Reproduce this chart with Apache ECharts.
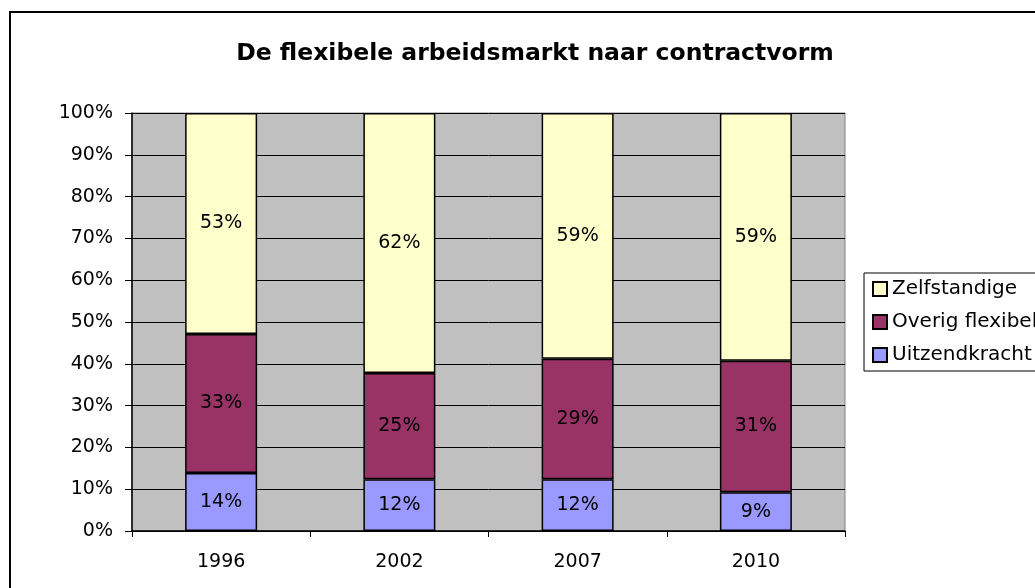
<!DOCTYPE html>
<html>
<head>
<meta charset="utf-8">
<script src="https://cdn.jsdelivr.net/npm/echarts@6/dist/echarts.min.js"></script>
<style>
  html, body { margin: 0; padding: 0; background: #fff; }
  #chart { width: 1035px; height: 588px; }
</style>
</head>
<body>
<div id="chart"></div>
<script>
// jaren op de x-as
var years = ['1996', '2002', '2007', '2010'];
// aandelen per contractvorm (procent)
var uitzendkracht = [13.9, 12.4, 12.4, 9.3];
var overigFlexibel = [33.2, 25.4, 28.8, 31.4];
var zelfstandige = [52.9, 62.2, 58.8, 59.3];
// legenda-volgorde (van boven naar beneden)
var legendOrder = ['Zelfstandige', 'Overig flexibel', 'Uitzendkracht'];

var FONT = 'DejaVu Sans';

var myChart = echarts.init(document.getElementById('chart'));

function barSeries(name, data, color) {
    return {
        name: name,
        type: 'bar',
        stack: 'totaal',
        barWidth: 72,
        data: data,
        itemStyle: {
            color: color,
            borderColor: '#000',
            borderWidth: 1.5
        },
        label: {
            show: true,
            position: 'inside',
            color: '#000',
            fontFamily: FONT,
            fontSize: 19,
            formatter: function (p) {
                return Math.round(p.value) + '%';
            }
        },
        emphasis: { disabled: true }
    };
}

var option = {
    animation: false,
    backgroundColor: '#fff',
    title: {
        text: 'De flexibele arbeidsmarkt naar contractvorm',
        left: 530,
        textAlign: 'center',
        top: 37,
        textStyle: {
            fontFamily: FONT,
            fontWeight: 'bold',
            fontSize: 23.5,
            color: '#000'
        }
    },
    graphic: [
        {
            type: 'rect',
            shape: { x: 10, y: 12, width: 1100, height: 700 },
            style: { fill: 'none', stroke: '#000', lineWidth: 2 },
            silent: true
        }
    ],
    legend: {
        data: legendOrder,
        orient: 'vertical',
        left: 864,
        top: 273,
        padding: [6, 8, 6, 8],
        itemGap: 13,
        itemWidth: 14,
        itemHeight: 14,
        icon: 'rect',
        borderColor: '#000',
        borderWidth: 1,
        backgroundColor: '#fff',
        textStyle: {
            fontFamily: FONT,
            fontSize: 20,
            lineHeight: 20,
            color: '#000'
        }
    },
    grid: {
        left: 132,
        right: 190,
        top: 113,
        bottom: 57,
        show: true,
        backgroundColor: '#c0c0c0',
        borderColor: '#808080',
        borderWidth: 1
    },
    xAxis: {
        type: 'category',
        data: years,
        axisLine: { lineStyle: { color: '#000', width: 1.5 } },
        axisTick: { show: true, length: 6, lineStyle: { color: '#000' } },
        axisLabel: {
            fontFamily: FONT,
            fontSize: 19,
            color: '#000',
            margin: 22
        }
    },
    yAxis: {
        type: 'value',
        min: 0,
        max: 100,
        interval: 10,
        axisLine: { show: true, lineStyle: { color: '#000', width: 1.5 } },
        axisTick: { show: true, length: 7, lineStyle: { color: '#000' } },
        axisLabel: {
            fontFamily: FONT,
            fontSize: 19,
            color: '#000',
            margin: 19,
            formatter: '{value}%'
        },
        splitLine: { show: true, lineStyle: { color: '#000', width: 1 } }
    },
    series: [
        barSeries('Uitzendkracht', uitzendkracht, '#9999ff'),
        barSeries('Overig flexibel', overigFlexibel, '#993366'),
        barSeries('Zelfstandige', zelfstandige, '#ffffcc')
    ]
};
myChart.setOption(option);
</script>
</body>
</html>
